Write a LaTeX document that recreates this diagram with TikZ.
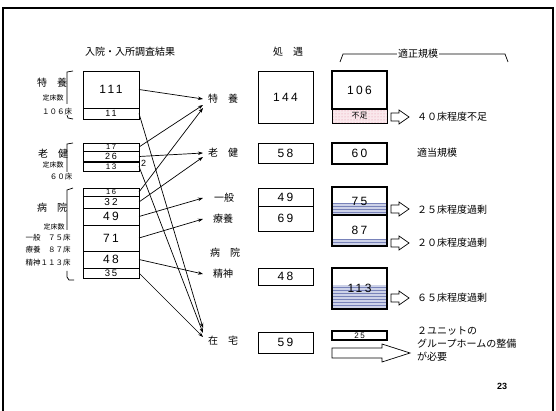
\documentclass[tikz,border=0pt]{standalone}
\usepackage{fontspec}
\setmainfont{Noto Sans CJK JP}
\newfontfamily\numf[LetterSpace=20]{Liberation Sans}
\newfontfamily\plainnum{Liberation Sans}
\usetikzlibrary{arrows.meta,patterns}
\definecolor{pinkdot}{RGB}{225,140,160}
\definecolor{pinkbg}{RGB}{250,232,236}
\definecolor{hatchln}{RGB}{120,130,185}
\definecolor{hatchbg}{RGB}{205,210,232}
\newcommand\harrowAt[2]{\draw[hollow] (#1,#2) ++(0,-4) -- ++(8,0) -- ++(0,-3) -- ++(10,7) -- ++(-10,7) -- ++(0,-3) -- ++(-8,0) -- cycle;}
\begin{document}
\begin{tikzpicture}[x=1pt,y=-1pt,
  lbox/.style={draw, line width=0.6pt, inner sep=0pt, outer sep=0pt, anchor=north west, minimum width=56pt, font=\numf\fontsize{12}{12}\selectfont},
  sbox/.style={lbox, font=\numf\fontsize{8}{8}\selectfont},
  pbox/.style={lbox, minimum width=55pt},
  rbox/.style={lbox, minimum width=55pt, line width=1.6pt},
  jl/.style={inner sep=0pt, font=\fontsize{10}{12}\selectfont},
  smalltxt/.style={inner sep=0pt, font=\fontsize{7}{8}\selectfont},
  tgt/.style={anchor=west, inner xsep=5pt, inner ysep=1pt, font=\fontsize{10}{12}\selectfont},
  rtxt/.style={anchor=west, inner sep=0pt, font=\fontsize{10}{12}\selectfont},
  conn/.style={line width=0.7pt, -{Stealth[length=5pt,width=3.5pt]}},
  hollow/.style={draw, line width=0.7pt, fill=white},
  brk/.style={line width=0.7pt}]
\useasboundingbox (0,0) rectangle (556,411);
\fill[white] (0,0) rectangle (556,411);
% frame
\draw[line width=1.5pt] (3,411) -- (3,8) -- (553,8) -- (553,411);

% titles
\node[jl] (t1) at (130,52) {入院・入所調査結果};
\node[jl] (t2) at (288,52) {処　遇};
\node[jl, inner xsep=1pt] (t3) at (418,54) {適正規模};
\draw[brk] (t3.west) -- (343,54) -- (340,62);
\draw[brk] (t3.east) -- (505,54) -- (508,62);

% left labels
\node[jl] (lToku) at (52,83) {特　養};
\node[smalltxt] (lTokuT) at (53,98) {定床数};
\node[smalltxt, font=\fontsize{7.5}{8}\selectfont] (lTokuN) at (57,112) {１０６床};
\draw[brk] (73,71) -- (67,72) -- (67,104);
\draw[brk] (67,115) -- (68,118) -- (73,119);

\node[jl] (lRoken) at (53,154) {老　健};
\node[smalltxt] (lRokenT) at (53,165) {定床数};
\node[smalltxt, font=\fontsize{7.5}{8}\selectfont] (lRokenN) at (61,177) {６０床};
\draw[brk] (73,143) -- (67,144) -- (67,172);

\node[jl] (lByoin) at (52,208) {病　院};
\node[smalltxt] (lByoinT) at (54,227) {定床数};
\node[smalltxt, font=\fontsize{7.5}{8}\selectfont] (lIppan) at (48,238) {一般　７５床};
\node[smalltxt, font=\fontsize{7.5}{8}\selectfont] (lRyoyo) at (48,250) {療養　８７床};
\node[smalltxt, font=\fontsize{7.5}{8}\selectfont] (lSeishin) at (48,263) {精神１１３床};
\draw[brk] (73,188) -- (67,190) -- (67,230);
\draw[brk] (67,271) -- (67,277) -- (69,280) -- (74,280);

% left boxes
\node[lbox, minimum height=37pt] (b111) at (83,71) {111};
\node[sbox, minimum height=11pt, font=\numf\fontsize{9}{9}\selectfont] (b11) at (83,108) {11};
\node[sbox, minimum height=8pt, font=\numf\fontsize{7.5}{7.5}\selectfont] (b17) at (83,143) {17};
\node[sbox, minimum height=11pt, font=\numf\fontsize{9}{9}\selectfont] (b26) at (83,151) {26};
\node[sbox, minimum height=9pt, font=\numf\fontsize{8}{8}\selectfont] (b13) at (83,162) {13};
\draw[line width=1.5pt] (b13.north west) -- (b13.north east);
\node[jl, font=\plainnum\fontsize{9}{9}\selectfont, anchor=west] (two) at (141,163) {2};
\node[sbox, minimum height=8pt, font=\numf\fontsize{7.5}{7.5}\selectfont] (b16) at (83,188) {16};
\node[sbox, minimum height=12pt, font=\numf\fontsize{10}{10}\selectfont] (b32) at (83,196) {32};
\node[lbox, minimum height=17pt] (b49) at (83,208) {49};
\node[lbox, minimum height=26pt] (b71) at (83,225) {71};
\node[lbox, minimum height=17pt] (b48) at (83,251) {48};
\node[sbox, minimum height=10pt, font=\numf\fontsize{9.5}{9.5}\selectfont] (b35) at (83,268) {35};

% target labels
\node[tgt] (toku) at (203,99) {特　養};
\node[tgt] (roken) at (203,153) {老　健};
\node[tgt, inner xsep=11pt] (ippan) at (203,198) {一般};
\node[tgt, inner xsep=10pt] (ryoyo) at (203,219) {療養};
\node[jl] (byoin) at (225,253) {病　院};
\node[tgt, inner xsep=10pt] (seishin) at (203,274) {精神};
\node[tgt] (zaitaku) at (203,341) {在　宅};

% connectors
\draw[conn] (b111.east) -- (toku.west);
\draw[conn] (b17.east) -- ([yshift=-6pt]toku.west);
\draw[conn] (b16.east) -- ([yshift=-9pt]toku.west);
\draw[conn] (b26.east) -- (roken.west);
\draw[conn] (b32.east) -- ([yshift=-4pt]roken.west);
\draw[conn] (b49.east) -- (ippan.west);
\draw[conn] (b71.east) -- (ryoyo.west);
\draw[conn] (b48.east) -- (seishin.west);
\draw[conn] (b11.east) -- ([yshift=13pt]zaitaku.west);
\draw[conn] (b13.east) -- ([yshift=8pt]zaitaku.west);
\draw[conn] (b35.east) -- ([yshift=4pt]zaitaku.west);

% treatment boxes
\node[pbox, minimum height=52pt] (s144) at (258,71) {144};
\node[pbox, minimum height=20pt] (s58) at (258,143) {58};
\node[pbox, minimum height=18pt] (s49) at (258,188) {49};
\node[pbox, minimum height=25pt] (s69) at (258,206) {69};
\node[pbox, minimum height=17pt] (s48) at (258,268) {48};
\node[pbox, minimum height=21pt] (s59) at (258,332) {59};

% appropriate scale boxes
\fill[pinkbg] (332,109) rectangle (387,123);
\fill[pattern=dots, pattern color=pinkdot] (332,109) rectangle (387,123);
\node[pbox, minimum height=14pt, font=\fontsize{8}{8}\selectfont] (rfusoku) at (332,109) {不足};
\node[rbox, minimum height=38pt] (r106) at (332,71) {106};

\node[rbox, minimum height=21pt] (r60) at (332,143) {60};

\fill[hatchbg] (332,203) rectangle (387,215);
\fill[pattern=horizontal lines, pattern color=hatchln] (332,203) rectangle (387,215);
\fill[hatchbg] (332,239) rectangle (387,246);
\fill[pattern=horizontal lines, pattern color=hatchln] (332,239) rectangle (387,246);
\node[rbox, minimum height=28pt] (r75) at (332,187) {75};
\node[rbox, minimum height=31pt] (r87) at (332,215) {87};

\fill[hatchbg] (332,285) rectangle (387,309);
\fill[pattern=horizontal lines, pattern color=hatchln] (332,285) rectangle (387,309);
\node[rbox, minimum height=41pt] (r113) at (332,268) {113};

\node[rbox, minimum height=9pt, font=\numf\fontsize{8}{8}\selectfont] (r25) at (332,331) {25};

% hollow arrows
\harrowAt{391}{117}
\harrowAt{391}{209}
\harrowAt{391}{243}
\harrowAt{391}{298}
\draw[hollow] (332,348) -- (382,348) -- (382,344) -- (410,353) -- (382,362) -- (382,358) -- (332,358) -- cycle;

% right texts
\node[rtxt] (n40) at (417,117) {４０床程度不足};
\node[rtxt] (nTekito) at (417,153) {適当規模};
\node[rtxt] (n25) at (417,210) {２５床程度過剰};
\node[rtxt] (n20) at (417,243) {２０床程度過剰};
\node[rtxt] (n65) at (417,298) {６５床程度過剰};
\node[rtxt, anchor=north west, align=left, font=\fontsize{10}{13}\selectfont] (nGH) at (417,327) {２ユニットの\\グループホームの整備\\が必要};
\node[jl, font=\plainnum\fontsize{9}{9}\selectfont\bfseries] (pg) at (502,386) {23};
\end{tikzpicture}
\end{document}
